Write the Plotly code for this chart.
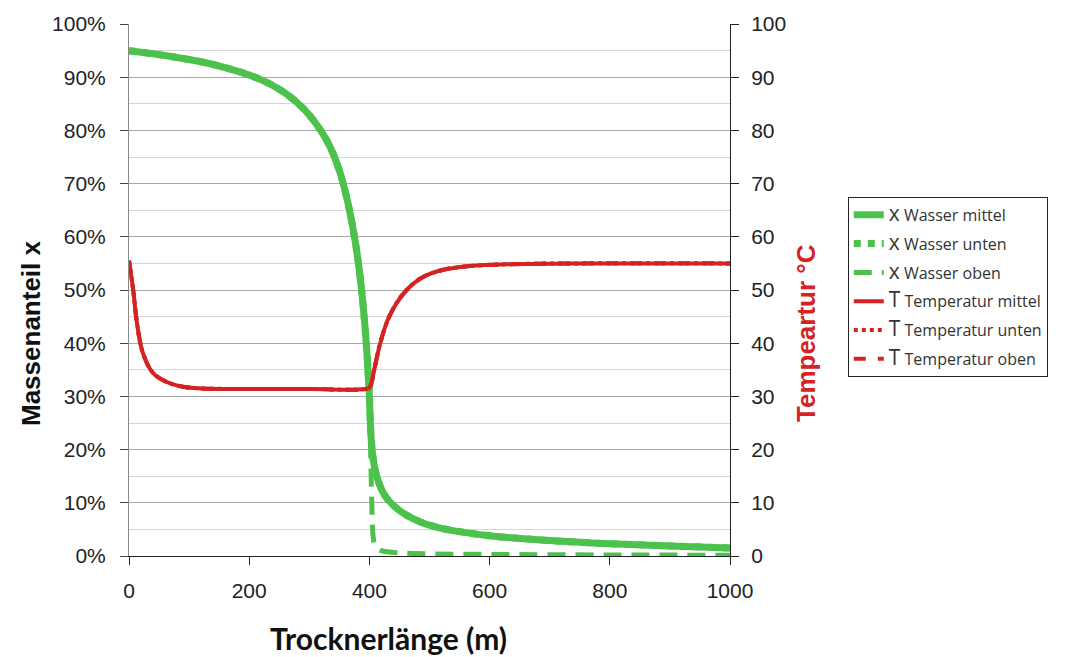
import plotly.graph_objects as go

# ---- data ----
water_x = [0, 40, 80, 120, 160, 200, 220, 240, 260, 280, 300, 320, 335, 350, 362, 372, 380, 387, 392, 396, 400,
           403, 408, 415, 425, 440, 460, 485, 520, 560, 600, 700, 800, 900, 1000]
water_mittel = [95, 94.4, 93.7, 92.9, 91.8, 90.4, 89.5, 88.4, 87, 85.2, 82.9, 79.8, 76.8, 72.5, 67.5, 62, 56.5, 50, 44, 38, 30,
                22, 17, 14, 11.5, 9.5, 7.8, 6.4, 5.2, 4.4, 3.8, 2.9, 2.3, 1.9, 1.5]

oben_x = [0, 40, 80, 120, 160, 200, 220, 240, 260, 280, 300, 320, 335, 350, 362, 372, 380, 387, 392, 396, 400,
          402, 404, 406, 410, 420, 450, 500, 600, 800, 1000]
water_oben = [95, 94.4, 93.7, 92.9, 91.8, 90.4, 89.5, 88.4, 87, 85.2, 82.9, 79.8, 76.8, 72.5, 67.5, 62, 56.5, 50, 44, 38, 30,
              20, 10, 4, 1.8, 1.0, 0.6, 0.4, 0.3, 0.2, 0.15]

temp_x = [0, 7, 13, 23, 40, 63, 90, 120, 200, 300, 398, 402, 408, 418, 431, 445, 462,
          487, 523, 567, 634, 750, 1000]
temp_mittel = [55.5, 50, 44, 38.2, 34.4, 32.7, 31.8, 31.5, 31.4, 31.4, 31.5, 32, 35, 40,
               44.5, 47.5, 50, 52.3, 53.8, 54.5, 54.85, 55, 55]

GREEN = "#4CC24C"
RED = "#D42322"

def nm(sym, text):
    return f"<span style='font-size:21px'>{sym}</span> {text}"

traces = [
    (water_x, [v / 100 for v in water_mittel], "y", GREEN, 7, "solid", nm("x", "Wasser mittel")),
    (water_x, [v / 100 for v in water_mittel], "y", GREEN, 7, "dot", nm("x", "Wasser unten")),
    (oben_x, [v / 100 for v in water_oben], "y", GREEN, 5, "18px,10px", nm("x", "Wasser oben")),
    (temp_x, temp_mittel, "y2", RED, 4, "solid", nm("T", "Temperatur mittel")),
    (temp_x, temp_mittel, "y2", RED, 4, "dot", nm("T", "Temperatur unten")),
    (temp_x, temp_mittel, "y2", RED, 4, "dash", nm("T", "Temperatur oben")),
]

fig = go.Figure()
for i, (xs, ys, ax, col, w, dash, name) in enumerate(traces):
    fig.add_trace(go.Scatter(x=xs, y=ys, mode="lines", yaxis=ax, legendgroup=f"g{i}",
                             line=dict(color=col, width=w, dash=dash, shape="spline", smoothing=1.0),
                             name=name))

tickfont = dict(family="Liberation Sans, Arial", size=21, color="#222")

fig.update_layout(
    width=1075, height=657,
    margin=dict(l=129, r=345, t=24, b=101),
    paper_bgcolor="white", plot_bgcolor="white",
    hovermode=False,
    showlegend=True,
    legend=dict(x=1.196, y=0.675, xanchor="left", yanchor="top",
                bordercolor="#222", borderwidth=1, bgcolor="white",
                font=dict(family="Open Sans, Lato", size=16, color="#333"),
                tracegroupgap=5),
    xaxis=dict(range=[0, 1000], dtick=200, tick0=0, ticks="outside", ticklen=8,
               tickcolor="#222", showline=True, linecolor="#222", linewidth=1,
               showgrid=False, zeroline=False, tickfont=tickfont, ticklabelstandoff=8),
    yaxis=dict(range=[0, 1], dtick=0.1, tick0=0, tickformat=".0%", ticks="outside", ticklen=8,
               tickcolor="#444", showline=True, linecolor="#888", linewidth=1,
               showgrid=True, gridcolor="#A8A8A8", gridwidth=1, zeroline=False,
               minor=dict(dtick=0.05, showgrid=True, gridcolor="#D6D6D6", gridwidth=1),
               tickfont=tickfont, ticklabelstandoff=10),
    yaxis2=dict(range=[0, 100], dtick=10, tick0=0, overlaying="y", side="right",
                ticks="outside", ticklen=8, tickcolor="#222",
                showline=True, linecolor="#222", linewidth=1, showgrid=False, zeroline=False,
                tickfont=tickfont, ticklabelstandoff=8),
    annotations=[
        dict(text="Trocknerlänge (m)", xref="paper", yref="paper",
             x=(388 - 129) / 601, y=-(638 - 556) / 532, xanchor="center", yanchor="middle",
             showarrow=False,
             font=dict(family="Lato, Open Sans", size=30, color="#111", weight="bold")),
        dict(text="Massenanteil x", xref="paper", yref="paper",
             x=-(129 - 31) / 601, y=(556 - 333) / 532, xanchor="center", yanchor="middle",
             textangle=-90, showarrow=False,
             font=dict(family="Liberation Sans, Arial", size=26, color="#111", weight="bold")),
        dict(text="Tempeartur °C", xref="paper", yref="paper",
             x=1 + (806 - 730) / 601, y=(556 - 333) / 532, xanchor="center", yanchor="middle",
             textangle=-90, showarrow=False,
             font=dict(family="Liberation Sans, Arial", size=26, color=RED, weight="bold")),
    ],
)

fig.write_html("out.html")
